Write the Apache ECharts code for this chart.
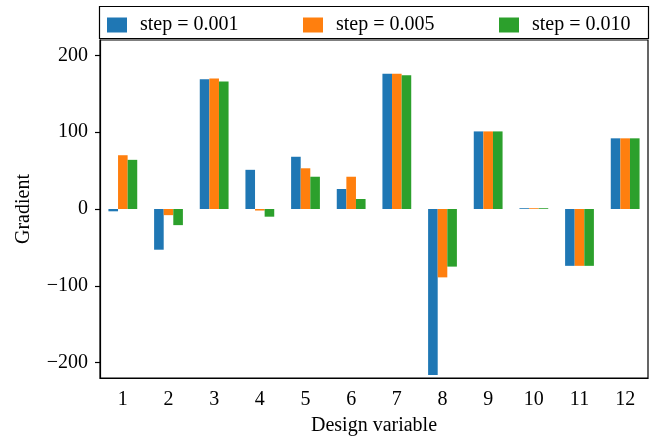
<!DOCTYPE html>
<html>
<head>
<meta charset="utf-8">
<script src="https://cdn.jsdelivr.net/npm/echarts@6/dist/echarts.min.js"></script>
<style>
html,body{margin:0;padding:0;background:#fff;}
#chart{width:656px;height:439px;}
</style>
</head>
<body>
<div id="chart"></div>
<script>
var categories = ['1','2','3','4','5','6','7','8','9','10','11','12'];
var seriesNames = ['step = 0.001', 'step = 0.005', 'step = 0.010'];
var step001 = [-3, -53, 169, 51, 68, 26, 176, -216, 101, 1, -74, 92];
var step005 = [70, -8, 170, -2, 53, 42, 176, -89, 101, 1, -74, 92];
var step010 = [64, -21, 166, -10, 42, 13, 174, -75, 101, 1, -74, 92];
var yTicks = [-200, -100, 0, 100, 200];
var colors = ['#1f77b4', '#ff7f0e', '#2ca02c'];

var FONT = 'Liberation Serif';
var FS = 20;
var chart = echarts.init(document.getElementById('chart'), null, {renderer: 'canvas'});

function legendFor(i, left) {
  return {
    data: [seriesNames[i]],
    left: left, top: 15, padding: 0,
    itemWidth: 20, itemHeight: 15,
    icon: 'rect',
    itemStyle: {borderWidth: 0},
    textStyle: {fontFamily: FONT, fontSize: FS, color: '#000', lineHeight: 15, padding: [0, 0, 0, 8]}
  };
}

var option = {
  animation: false,
  backgroundColor: '#fff',
  color: colors,
  grid: {left: 100, right: 8, top: 40, bottom: 61, show: true, borderColor: '#000', borderWidth: 1.2,
    containLabel: false, outerBoundsMode: 'none'},
  legend: [legendFor(0, 107), legendFor(1, 303), legendFor(2, 499)],
  graphic: [{
    type: 'rect', shape: {x: 99.5, y: 6.5, width: 549, height: 32},
    style: {fill: 'none', stroke: '#000', lineWidth: 1.2}, silent: true, z: 100
  }],
  xAxis: {
    type: 'category', data: categories, boundaryGap: true,
    name: 'Design variable', nameLocation: 'middle', nameGap: 38,
    nameTextStyle: {fontFamily: FONT, fontSize: FS, color: '#000'},
    axisLine: {onZero: false, lineStyle: {color: '#000', width: 1.2}},
    axisTick: {alignWithLabel: true, length: 5, lineStyle: {color: '#000', width: 1.2}},
    axisLabel: {fontFamily: FONT, fontSize: FS, color: '#000', margin: 12, interval: 0},
    splitLine: {show: false}
  },
  yAxis: {
    type: 'value', min: -220, max: 220,
    name: 'Gradient', nameLocation: 'middle', nameGap: 66, nameRotate: 90,
    nameTextStyle: {fontFamily: FONT, fontSize: FS, color: '#000'},
    axisLine: {show: true, lineStyle: {color: '#000', width: 1.2}},
    axisTick: {show: true, length: 5, customValues: yTicks, lineStyle: {color: '#000', width: 1.2}},
    axisLabel: {fontFamily: FONT, fontSize: FS, color: '#000', margin: 12, customValues: yTicks,
      formatter: function (v) { return String(v).replace('-', '\u2212'); }},
    splitLine: {show: false}
  },
  series: [
    {name: seriesNames[0], type: 'bar', data: step001, barWidth: 9.6, barGap: '0%'},
    {name: seriesNames[1], type: 'bar', data: step005, barWidth: 9.6, barGap: '0%'},
    {name: seriesNames[2], type: 'bar', data: step010, barWidth: 9.6, barGap: '0%'}
  ]
};
chart.setOption(option);
</script>
</body>
</html>
